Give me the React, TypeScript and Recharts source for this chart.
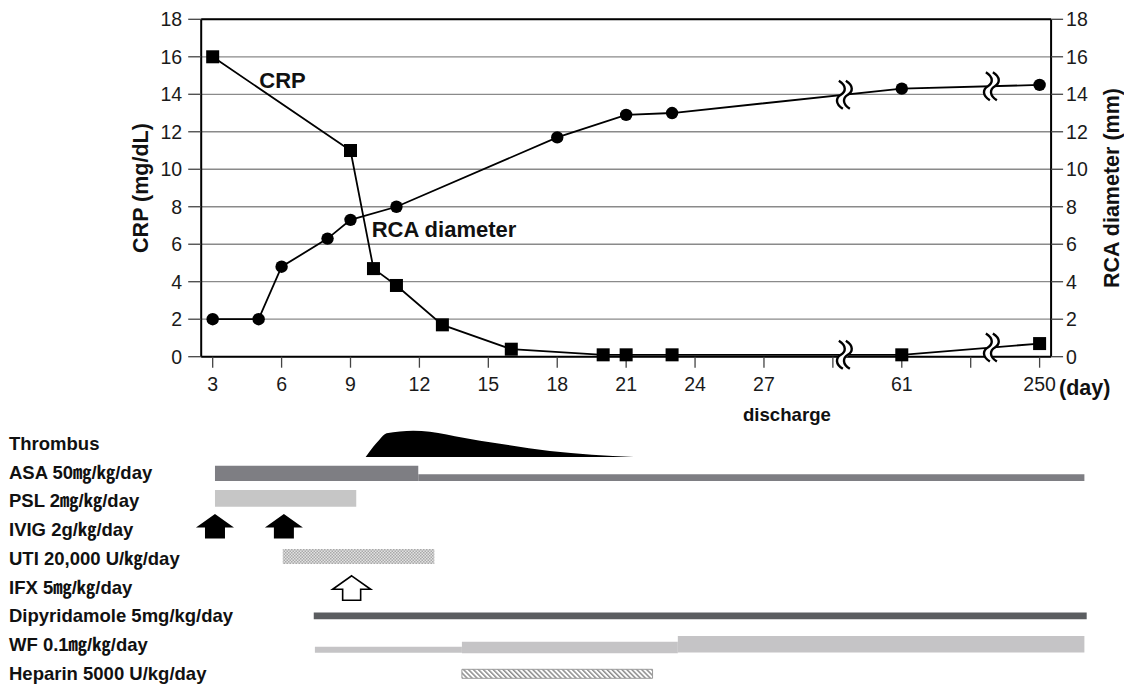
import {
  LineChart,
  Line,
  XAxis,
  YAxis,
  CartesianGrid,
  ReferenceLine,
  ReferenceDot,
  ReferenceArea,
  ComposedChart,
  Area,
} from "recharts";

// ---- clinical course ----
const crpDays = [3, 9, 10, 11, 13, 16, 20, 21, 23, 61, 250];
const crpValues = [16, 11, 4.7, 3.8, 1.7, 0.4, 0.1, 0.1, 0.1, 0.1, 0.7];
const rcaDays = [3, 5, 6, 8, 9, 11, 18, 21, 23, 61, 250];
const rcaValues = [2, 2, 4.8, 6.3, 7.3, 8, 11.7, 12.9, 13, 14.3, 14.5];

// broken day axis: days up to 30 are linear, late visits sit on fixed slots
const lateDays = [61, 250];
const lateSlots = [33, 39];
const axisBreaks = [30.5, 36.9];

const xTicks = [3, 6, 9, 12, 15, 18, 21, 24, 27, 30, 33, 36, 39];
const xTickLabels = ["3", "6", "9", "12", "15", "18", "21", "24", "27", "", "61", "", "250"];
const yTicks = [0, 2, 4, 6, 8, 10, 12, 14, 16, 18];
const dischargeDay = 28;

// ---- treatment timeline (axis slots, same scale as above) ----
const rowLabels = [
  "Thrombus",
  "ASA 50㎎/㎏/day",
  "PSL 2㎎/㎏/day",
  "IVIG 2g/㎏/day",
  "UTI 20,000 U/㎏/day",
  "IFX 5㎎/㎏/day",
  "Dipyridamole 5mg/kg/day",
  "WF 0.1㎎/㎏/day",
  "Heparin 5000 U/kg/day",
];
const thrombusDays = [9.66, 9.99, 10.25, 10.57, 11.73, 14.64, 17.68, 21.34];
const thrombusSize = [0, 0.39, 0.65, 0.9, 1, 0.62, 0.23, 0];
const asaDays = [3.1, 11.95, 40.95]; // high dose, then low dose
const pslDays = [3.1, 9.25];
const ivigDays = [3.1, 6.1];
const utiDays = [6.05, 12.65];
const ifxDays = [9.05];
const dipyridamoleDays = [7.4, 41.05];
const wfDays = [7.45, 13.85, 23.25, 40.95]; // dose stepped up twice
const heparinDays = [13.85, 22.15];

const FONT = "'Liberation Sans', Arial, 'Noto Sans CJK JP', sans-serif";
const SLOT_PX = 22.97;
const AXIS_LEFT = 201.2;
const ROW_PX = 28.75;

function toSlot(day: number) {
  const i = lateDays.indexOf(day);
  return i >= 0 ? lateSlots[i] : day;
}

const crpData = crpDays.map((d, i) => ({ slot: toSlot(d), crp: crpValues[i] }));
const rcaData = rcaDays.map((d, i) => ({ slot: toSlot(d), rca: rcaValues[i] }));
const thrombusData = thrombusDays.map((d, i) => ({ slot: d, size: thrombusSize[i] }));

// where a drawn segment crosses a break mark
function lineAt(rows: any[], key: string, slot: number) {
  for (let i = 1; i < rows.length; i++) {
    const a = rows[i - 1];
    const b = rows[i];
    if (slot >= a.slot && slot <= b.slot) {
      return a[key] + ((slot - a.slot) / (b.slot - a.slot)) * (b[key] - a[key]);
    }
  }
  return 0;
}

const SquareDot = (props: any) => {
  const { cx, cy } = props;
  if (cx == null || cy == null) return <g />;
  return <rect x={cx - 6.5} y={cy - 6.5} width={13} height={13} fill="#000" />;
};

const CircleDot = (props: any) => {
  const { cx, cy } = props;
  if (cx == null || cy == null) return <g />;
  return <circle cx={cx} cy={cy} r={6.2} fill="#000" />;
};

const BreakMark = (props: any) => {
  const { cx, cy } = props;
  if (cx == null || cy == null) return <g />;
  const s = (dx: number) =>
    `M ${cx + dx - 2} ${cy - 14} C ${cx + dx + 6} ${cy - 9} ${cx + dx + 5} ${cy - 3} ${cx + dx} ${cy} ` +
    `C ${cx + dx - 5} ${cy + 3} ${cx + dx - 6} ${cy + 9} ${cx + dx + 2} ${cy + 14}`;
  return (
    <g>
      <path d={s(0)} stroke="#fff" strokeWidth={6} fill="none" />
      <path d={s(-3.5)} stroke="#000" strokeWidth={2.4} fill="none" />
      <path d={s(3.5)} stroke="#000" strokeWidth={2.4} fill="none" />
    </g>
  );
};

const axisTitle = (text: string, offsetX: number) => (props: any) => {
  const vb = props.viewBox;
  if (!vb) return null;
  const cx = vb.x + offsetX;
  const cy = vb.y + vb.height / 2;
  return (
    <text
      x={cx}
      y={cy}
      transform={`rotate(-90 ${cx} ${cy})`}
      textAnchor="middle"
      dominantBaseline="central"
      fontSize={21.5}
      fontWeight={700}
      fill="#111"
    >
      {text}
    </text>
  );
};

const pinText =
  (text: string, dx: number, dy: number, anchor: string, size: number) => (props: any) => {
    const vb = props.viewBox;
    if (!vb) return null;
    return (
      <text
        x={vb.x + dx}
        y={vb.y + dy}
        textAnchor={anchor}
        dominantBaseline={dy === 0 ? "central" : "alphabetic"}
        fontSize={size}
        fontWeight={700}
        fill="#111"
      >
        {text}
      </text>
    );
  };

const dayLabel = (props: any) => {
  const vb = props.viewBox;
  if (!vb) return null;
  return (
    <text x={vb.x + vb.width + 8} y={vb.y + 38} fontSize={21.5} fontWeight={700} fill="#111">
      (day)
    </text>
  );
};

// bar thickness per regimen, px above/below the row centre
const barStyles: Record<string, { top: number; bottom: number; fill: string; stroke?: string }> = {
  asaHigh: { top: -6.4, bottom: 9, fill: "#7e7e83" },
  asaLow: { top: 2.2, bottom: 9, fill: "#7e7e83" },
  psl: { top: -10.8, bottom: 5.9, fill: "#c6c6c6" },
  uti: { top: -9.3, bottom: 5.7, fill: "url(#stipple)" },
  dipy: { top: -3.2, bottom: 3.5, fill: "#5b5d60" },
  wfLow: { top: 2.1, bottom: 8.1, fill: "#c5c4c6" },
  wfMid: { top: -2.9, bottom: 8.7, fill: "#c5c4c6" },
  wfHigh: { top: -8.6, bottom: 7.9, fill: "#c5c4c6" },
  heparin: { top: -4, bottom: 5, fill: "url(#hatch)", stroke: "#9a9a9a" },
};

const segments = [
  { row: 1, from: asaDays[0], to: asaDays[1], kind: "asaHigh" },
  { row: 1, from: asaDays[1], to: asaDays[2], kind: "asaLow" },
  { row: 2, from: pslDays[0], to: pslDays[1], kind: "psl" },
  { row: 4, from: utiDays[0], to: utiDays[1], kind: "uti" },
  { row: 6, from: dipyridamoleDays[0], to: dipyridamoleDays[1], kind: "dipy" },
  { row: 7, from: wfDays[0], to: wfDays[1], kind: "wfLow" },
  { row: 7, from: wfDays[1], to: wfDays[2], kind: "wfMid" },
  { row: 7, from: wfDays[2], to: wfDays[3], kind: "wfHigh" },
  { row: 8, from: heparinDays[0], to: heparinDays[1], kind: "heparin" },
];

const arrowShape = (open: boolean, shiftY: number) => (props: any) => {
  const { cx, cy } = props;
  if (cx == null || cy == null) return <g />;
  const y = cy + shiftY;
  const w = 19;
  const st = open ? 9 : 10;
  const pts = [
    [0, -12.2],
    [w, 1.2],
    [st, 1.2],
    [st, 12.2],
    [-st, 12.2],
    [-st, 1.2],
    [-w, 1.2],
  ]
    .map(([px, py]) => `${cx + px},${y + py}`)
    .join(" ");
  return (
    <polygon
      points={pts}
      fill={open ? "#fff" : "#000"}
      stroke="#000"
      strokeWidth={open ? 1.6 : 0}
      strokeLinejoin="miter"
    />
  );
};

export default function App() {
  const mainH = 440;
  const plotTop = 19.3;
  const plotH = 337.4;
  const xMin = 2.5;
  const xMax = 39.5;
  const rightW = 1124 - AXIS_LEFT - (xMax - xMin) * SLOT_PX;

  // timeline layout
  const tlTop = 420;
  const tlH = 268;
  const tlPlotTop = 443.3 - ROW_PX / 2; // page y of the plot top
  const tlPlotH = 9 * ROW_PX;
  const tlXMax = 41.5;
  const tlRight = 1124 - AXIS_LEFT - (tlXMax - xMin) * SLOT_PX;
  const thrBase = 457 - tlPlotTop;
  const thrUnit = 26.3;
  const thrMax = thrBase / thrUnit;
  const thrMin = thrMax - tlPlotH / thrUnit;

  const tickStyle = { fill: "#1a1a1a", fontSize: 19.5 };

  return (
    <div
      style={{
        position: "absolute",
        left: 0,
        top: 0,
        width: 1124,
        height: 688,
        background: "#fff",
        fontFamily: FONT,
        overflow: "hidden",
      }}
    >
      <div style={{ position: "absolute", left: 0, top: 0 }}>
        <LineChart
          width={1124}
          height={mainH}
          margin={{ top: plotTop, right: 0, bottom: 0, left: 0 }}
        >
          <CartesianGrid yAxisId="left" vertical={false} stroke="#8a8a8a" strokeWidth={1.3} />
          <XAxis
            dataKey="slot"
            type="number"
            domain={[xMin, xMax]}
            allowDataOverflow
            ticks={xTicks}
            interval={0}
            tickFormatter={(v: number) => xTickLabels[xTicks.indexOf(v)] ?? ""}
            height={mainH - plotTop - plotH}
            tickSize={11}
            tickMargin={9}
            axisLine={{ stroke: "#000", strokeWidth: 2 }}
            tickLine={{ stroke: "#444", strokeWidth: 1.3 }}
            tick={tickStyle}
            label={dayLabel}
          />
          <YAxis
            yAxisId="left"
            type="number"
            domain={[0, 18]}
            ticks={yTicks}
            interval={0}
            width={AXIS_LEFT}
            tickSize={13}
            tickMargin={6}
            axisLine={{ stroke: "#000", strokeWidth: 2 }}
            tickLine={{ stroke: "#444", strokeWidth: 1.3 }}
            tick={tickStyle}
            label={axisTitle("CRP (mg/dL)", 141)}
          />
          <YAxis
            yAxisId="right"
            orientation="right"
            type="number"
            domain={[0, 18]}
            ticks={yTicks}
            interval={0}
            width={rightW}
            tickSize={12}
            tickMargin={3}
            axisLine={{ stroke: "#000", strokeWidth: 2 }}
            tickLine={{ stroke: "#444", strokeWidth: 1.3 }}
            tick={tickStyle}
            label={axisTitle("RCA diameter (mm)", 60.5)}
          />
          <ReferenceLine yAxisId="left" y={18} stroke="#000" strokeWidth={2} />
          <Line
            yAxisId="left"
            data={crpData}
            dataKey="crp"
            type="linear"
            stroke="#000"
            strokeWidth={1.8}
            dot={SquareDot}
            activeDot={false}
            isAnimationActive={false}
          />
          <Line
            yAxisId="right"
            data={rcaData}
            dataKey="rca"
            type="linear"
            stroke="#000"
            strokeWidth={1.8}
            dot={CircleDot}
            activeDot={false}
            isAnimationActive={false}
          />
          {axisBreaks.map((b) => (
            <ReferenceDot
              key={`crp-${b}`}
              yAxisId="left"
              x={b}
              y={lineAt(crpData, "crp", b)}
              shape={BreakMark}
              ifOverflow="visible"
            />
          ))}
          {axisBreaks.map((b) => (
            <ReferenceDot
              key={`rca-${b}`}
              yAxisId="right"
              x={b}
              y={lineAt(rcaData, "rca", b)}
              shape={BreakMark}
              ifOverflow="visible"
            />
          ))}
          <ReferenceDot
            yAxisId="left"
            x={6.04}
            y={14.75}
            r={0}
            fill="none"
            stroke="none"
            label={pinText("CRP", 0, 0, "middle", 22)}
          />
          <ReferenceDot
            yAxisId="right"
            x={13.07}
            y={6.8}
            r={0}
            fill="none"
            stroke="none"
            label={pinText("RCA diameter", 0, 0, "middle", 22)}
          />
          <ReferenceDot
            yAxisId="left"
            x={dischargeDay}
            y={0}
            r={0}
            fill="none"
            stroke="none"
            ifOverflow="visible"
            label={pinText("discharge", 0, 64, "middle", 18.6)}
          />
        </LineChart>
      </div>

      <div style={{ position: "absolute", left: 0, top: tlTop }}>
        <ComposedChart
          width={1124}
          height={tlH}
          data={thrombusData}
          margin={{
            top: tlPlotTop - tlTop,
            right: tlRight,
            bottom: tlH - (tlPlotTop - tlTop) - tlPlotH,
            left: 0,
          }}
        >
          <defs>
            <pattern id="stipple" width="3" height="3" patternUnits="userSpaceOnUse">
              <rect width="3" height="3" fill="#e2e2e2" />
              <rect width="1.5" height="1.5" fill="#a9a9a9" />
              <rect x="1.5" y="1.5" width="1.5" height="1.5" fill="#a9a9a9" />
            </pattern>
            <pattern
              id="hatch"
              width="3.5"
              height="3.5"
              patternUnits="userSpaceOnUse"
              patternTransform="rotate(-45)"
            >
              <rect width="3.5" height="3.5" fill="#fff" />
              <rect width="1.5" height="3.5" fill="#8c8c8c" />
            </pattern>
          </defs>
          <XAxis dataKey="slot" type="number" domain={[xMin, tlXMax]} allowDataOverflow hide />
          <YAxis
            yAxisId="rows"
            type="number"
            domain={[-0.5, 8.5]}
            allowDataOverflow
            reversed
            ticks={rowLabels.map((_, i) => i)}
            interval={0}
            width={AXIS_LEFT}
            axisLine={false}
            tickLine={false}
            tick={(p: any) => (
              <text
                x={9}
                y={p.y}
                dominantBaseline="central"
                fontSize={18.5}
                fontWeight={700}
                fill="#111"
              >
                {rowLabels[p.payload.value]}
              </text>
            )}
          />
          <YAxis yAxisId="thr" type="number" domain={[thrMin, thrMax]} allowDataOverflow hide />
          <Area
            yAxisId="thr"
            dataKey="size"
            type="monotone"
            baseValue={0}
            fill="#000"
            fillOpacity={1}
            stroke="none"
            activeDot={false}
            isAnimationActive={false}
          />
          {segments.map((s, i) => {
            const st = barStyles[s.kind];
            return (
              <ReferenceArea
                key={i}
                yAxisId="rows"
                x1={s.from}
                x2={s.to}
                y1={s.row + st.top / ROW_PX}
                y2={s.row + st.bottom / ROW_PX}
                fill={st.fill}
                fillOpacity={1}
                stroke={st.stroke ?? "none"}
                strokeWidth={st.stroke ? 1 : 0}
                ifOverflow="visible"
              />
            );
          })}
          {ivigDays.map((d) => (
            <ReferenceDot
              key={`ivig-${d}`}
              yAxisId="rows"
              x={d}
              y={3}
              shape={arrowShape(false, -3.3)}
              ifOverflow="visible"
            />
          ))}
          {ifxDays.map((d) => (
            <ReferenceDot
              key={`ifx-${d}`}
              yAxisId="rows"
              x={d}
              y={5}
              shape={arrowShape(true, 1)}
              ifOverflow="visible"
            />
          ))}
        </ComposedChart>
      </div>
    </div>
  );
}
